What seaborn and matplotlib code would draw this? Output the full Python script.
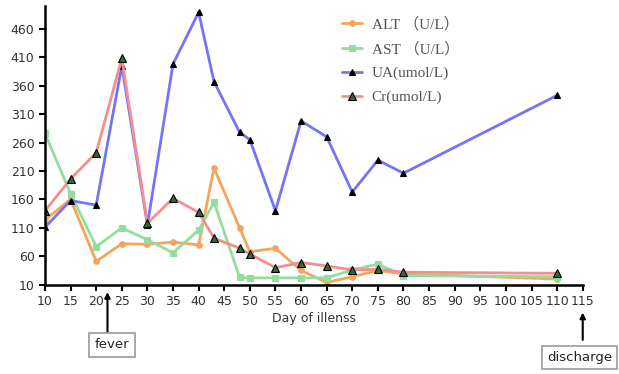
import matplotlib
matplotlib.use('Agg')
import matplotlib.pyplot as plt
import pandas as pd
import seaborn as sns

# day of illness and lab values
days = [10, 15, 20, 25, 30, 35, 40, 43, 48, 50, 55, 60, 65, 70, 75, 80, 110]
alt = [124, 160, 51, 82, 81, 85, 80, 215, 110, 68, 74, 35, 14, 24, 35, 29, 20]
ast = [276, 170, 77, 110, 89, 66, 106, 155, 23, 22, 22, 22, 22, 36, 46, 26, 24]
ua = [111, 158, 150, 395, 115, 398, 489, 367, 278, 265, 140, 298, 270, 173, 229, 206, 343]
cr = [140, 196, 242, 408, 118, 162, 137, 92, 74, 64, 40, 49, 43, 36, 37, 32, 30]

labels = ['ALT （U/L）', 'AST （U/L）', 'UA(umol/L)', 'Cr(umol/L)']
xticks = list(range(10, 120, 5))
yticks = list(range(10, 470, 50))

df = pd.DataFrame({'day': days, labels[0]: alt, labels[1]: ast,
                   labels[2]: ua, labels[3]: cr})

sns.set_style('ticks')
fig = plt.figure(figsize=(6.19, 3.74), dpi=100)
ax = fig.add_axes([0.0727, 0.2388, 0.8687, 0.745])

styles = {
    labels[0]: dict(color='#F4A55C', marker='o', ms=4, mfc='#F4A55C', mec='#F4A55C'),
    labels[1]: dict(color='#93DE9E', marker='s', ms=4, mfc='#93DE9E', mec='#93DE9E'),
    labels[2]: dict(color='#7474F6', marker='^', ms=4.5, mfc='black', mec='black'),
    labels[3]: dict(color='#F58E8E', marker='^', ms=6, mfc='#2F6B3A', mec='black'),
}
for lab in labels:
    st = styles[lab]
    sns.lineplot(data=df, x='day', y=lab, ax=ax, label=lab, color=st['color'],
                 lw=2.0, marker=st['marker'], markersize=st['ms'],
                 markerfacecolor=st['mfc'], markeredgecolor=st['mec'],
                 markeredgewidth=0.8)

ax.set_xlim(10, 115)
ax.set_ylim(10, 500)
ax.set_xticks(xticks)
ax.set_yticks(yticks)
ax.tick_params(axis='both', labelsize=9, colors='black', labelcolor='#333333',
               length=4, width=1.5, direction='out')
for s in ['top', 'right']:
    ax.spines[s].set_visible(False)
for s in ['left', 'bottom']:
    ax.spines[s].set_linewidth(1.8)
    ax.spines[s].set_color('black')
ax.set_xlabel('Day of illenss', fontsize=9, color='#333333', labelpad=3)
ax.set_ylabel('')

leg = ax.legend(loc='upper left', bbox_to_anchor=(342 / 619, 1 - 17 / 374),
                bbox_transform=fig.transFigure, frameon=False,
                prop={'family': ['Liberation Serif', 'Noto Sans CJK SC'], 'size': 11},
                handlelength=1.3, handletextpad=0.65, labelspacing=0.66,
                borderpad=0, borderaxespad=0)
for t in leg.get_texts():
    t.set_color('#555555')

box = dict(boxstyle='square,pad=0.4', fc='white', ec='#999999', lw=1.2)
arrow = dict(arrowstyle='-|>', color='black', lw=1.5, mutation_scale=8,
             shrinkA=0, shrinkB=0)

# fever marker
ax.annotate('', xy=(22.2, -3), xytext=(22.2, -73), arrowprops=arrow,
            annotation_clip=False)
ax.text(23.1, -96, 'fever', ha='center', va='center', fontsize=9.5,
        color='#222222', bbox=box, clip_on=False)

# discharge marker
ax.annotate('', xy=(115, -39), xytext=(115, -87), arrowprops=arrow,
            annotation_clip=False)
ax.text(114.4, -118, 'discharge', ha='center', va='center', fontsize=9.5,
        color='#222222', bbox=box, clip_on=False)

fig.savefig('out.png', dpi=100)
